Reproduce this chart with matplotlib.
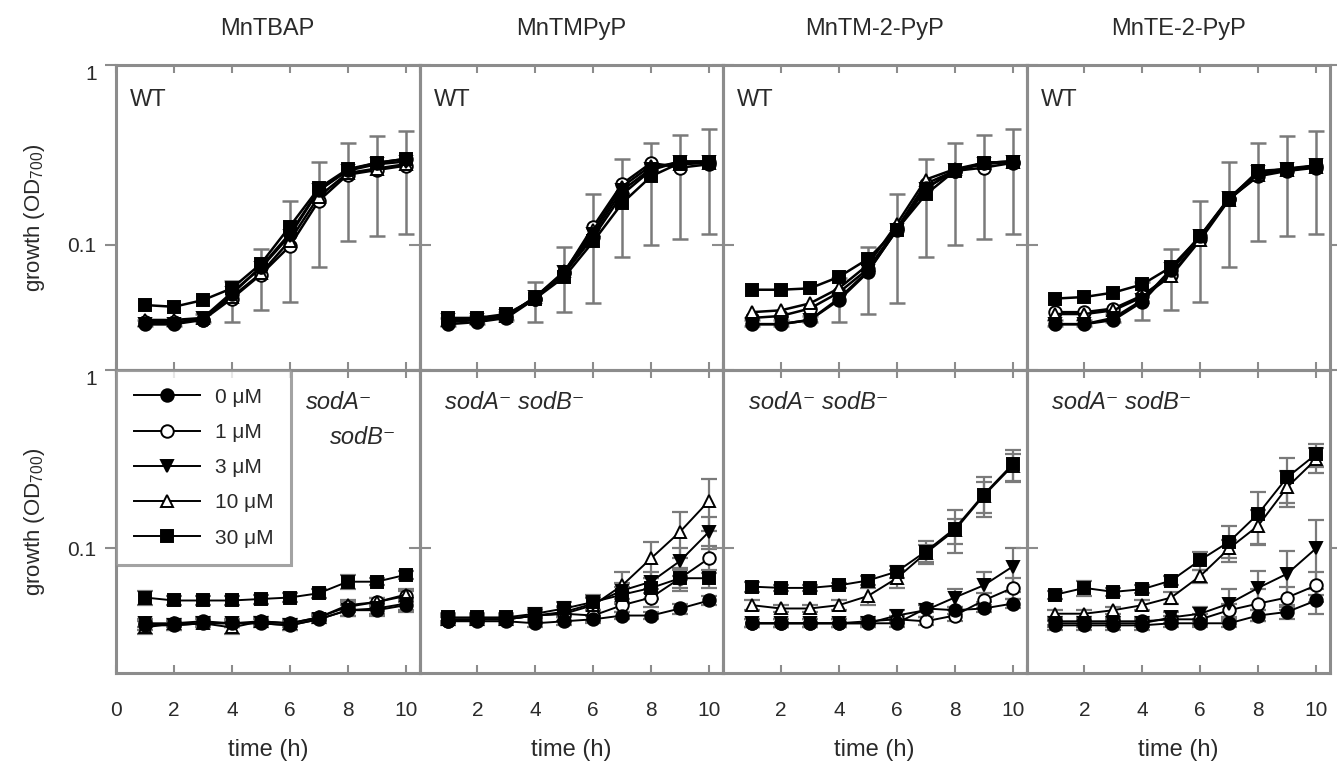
import numpy as np
import matplotlib
matplotlib.use("Agg")
import matplotlib.pyplot as plt
from matplotlib.ticker import FixedLocator, FixedFormatter, NullLocator

plt.rcParams['font.family'] = ['Liberation Sans', 'DejaVu Sans']
plt.rcParams['mathtext.fontset'] = 'custom'
plt.rcParams['mathtext.rm'] = 'Liberation Sans'
plt.rcParams['mathtext.it'] = 'Liberation Sans:italic'

# ---------------- data ----------------
hours = [1, 2, 3, 4, 5, 6, 7, 8, 9, 10]
compounds = ["MnTBAP", "MnTMPyP", "MnTM-2-PyP", "MnTE-2-PyP"]
doses = ["0 \u03bcM", "1 \u03bcM", "3 \u03bcM", "10 \u03bcM", "30 \u03bcM"]

# wild type (top row): 5 series each (0, 1, 3, 10, 30 uM)
wt_mntbap = [
    [0.036, 0.036, 0.038, 0.053, 0.075, 0.115, 0.200, 0.260, 0.285, 0.300],
    [0.037, 0.037, 0.038, 0.050, 0.068, 0.098, 0.175, 0.245, 0.260, 0.275],
    [0.036, 0.036, 0.039, 0.054, 0.074, 0.112, 0.200, 0.258, 0.280, 0.290],
    [0.038, 0.038, 0.039, 0.051, 0.069, 0.105, 0.185, 0.250, 0.265, 0.280],
    [0.046, 0.045, 0.049, 0.057, 0.078, 0.126, 0.206, 0.263, 0.285, 0.300],
]
wt_mntmpyp = [
    [0.036, 0.037, 0.039, 0.050, 0.069, 0.110, 0.190, 0.260, 0.290, 0.290],
    [0.037, 0.038, 0.040, 0.050, 0.070, 0.126, 0.218, 0.285, 0.268, 0.280],
    [0.038, 0.038, 0.040, 0.051, 0.070, 0.115, 0.200, 0.265, 0.290, 0.290],
    [0.038, 0.039, 0.040, 0.051, 0.071, 0.120, 0.210, 0.275, 0.280, 0.285],
    [0.039, 0.039, 0.041, 0.050, 0.066, 0.104, 0.170, 0.240, 0.285, 0.290],
]
wt_mntm2pyp = [
    [0.036, 0.036, 0.038, 0.049, 0.070, 0.121, 0.206, 0.257, 0.285, 0.290],
    [0.039, 0.040, 0.044, 0.054, 0.073, 0.123, 0.218, 0.257, 0.268, 0.285],
    [0.036, 0.036, 0.038, 0.050, 0.071, 0.120, 0.205, 0.260, 0.280, 0.290],
    [0.042, 0.043, 0.047, 0.057, 0.077, 0.130, 0.230, 0.263, 0.285, 0.290],
    [0.056, 0.056, 0.057, 0.066, 0.083, 0.121, 0.190, 0.257, 0.285, 0.290],
]
wt_mnte2pyp = [
    [0.036, 0.036, 0.038, 0.048, 0.072, 0.111, 0.180, 0.250, 0.263, 0.274],
    [0.042, 0.042, 0.044, 0.052, 0.068, 0.108, 0.180, 0.240, 0.257, 0.268],
    [0.036, 0.036, 0.039, 0.049, 0.073, 0.112, 0.182, 0.252, 0.265, 0.276],
    [0.041, 0.041, 0.043, 0.051, 0.067, 0.106, 0.178, 0.245, 0.260, 0.270],
    [0.050, 0.051, 0.054, 0.060, 0.075, 0.111, 0.180, 0.257, 0.263, 0.274],
]
# error bar ends (lower / upper) for the wild-type panels
wt_mntbap_lo = [0.035, 0.035, 0.037, 0.037, 0.043, 0.048, 0.075, 0.104, 0.111, 0.115]
wt_mntbap_hi = [0.038, 0.038, 0.041, 0.063, 0.094, 0.174, 0.290, 0.370, 0.400, 0.430]
wt_mntmpyp_lo = [0.035, 0.036, 0.038, 0.037, 0.042, 0.047, 0.085, 0.100, 0.108, 0.115]
wt_mntmpyp_hi = [0.039, 0.040, 0.042, 0.062, 0.097, 0.190, 0.300, 0.370, 0.410, 0.440]
wt_mntm2pyp_lo = [0.035, 0.035, 0.037, 0.037, 0.041, 0.047, 0.085, 0.100, 0.108, 0.115]
wt_mntm2pyp_hi = [0.038, 0.038, 0.040, 0.065, 0.097, 0.190, 0.300, 0.370, 0.410, 0.440]
wt_mnte2pyp_lo = [0.035, 0.035, 0.037, 0.038, 0.043, 0.048, 0.075, 0.104, 0.111, 0.115]
wt_mnte2pyp_hi = [0.038, 0.038, 0.041, 0.062, 0.094, 0.174, 0.290, 0.370, 0.400, 0.430]

# sodA- sodB- (bottom row)
sod_mntbap = [
    [0.037, 0.037, 0.038, 0.038, 0.038, 0.037, 0.040, 0.045, 0.045, 0.048],
    [0.038, 0.038, 0.039, 0.038, 0.039, 0.038, 0.041, 0.047, 0.050, 0.054],
    [0.038, 0.037, 0.038, 0.038, 0.038, 0.037, 0.040, 0.045, 0.046, 0.049],
    [0.036, 0.038, 0.038, 0.036, 0.039, 0.038, 0.041, 0.048, 0.050, 0.055],
    [0.053, 0.051, 0.051, 0.051, 0.052, 0.053, 0.056, 0.065, 0.065, 0.071],
]
sod_mntmpyp = [
    [0.039, 0.039, 0.039, 0.038, 0.039, 0.040, 0.042, 0.042, 0.046, 0.051],
    [0.039, 0.040, 0.040, 0.042, 0.043, 0.042, 0.048, 0.053, 0.068, 0.088],
    [0.040, 0.040, 0.040, 0.042, 0.044, 0.049, 0.058, 0.065, 0.085, 0.124],
    [0.040, 0.040, 0.040, 0.042, 0.043, 0.048, 0.062, 0.088, 0.124, 0.185],
    [0.041, 0.041, 0.041, 0.043, 0.046, 0.050, 0.055, 0.060, 0.068, 0.068],
]
sod_mntm2pyp = [
    [0.038, 0.038, 0.038, 0.038, 0.038, 0.038, 0.046, 0.045, 0.046, 0.049],
    [0.038, 0.038, 0.038, 0.038, 0.039, 0.040, 0.039, 0.042, 0.051, 0.060],
    [0.038, 0.038, 0.038, 0.038, 0.038, 0.042, 0.045, 0.053, 0.062, 0.079],
    [0.048, 0.046, 0.046, 0.048, 0.054, 0.068, 0.094, 0.126, 0.197, 0.290],
    [0.061, 0.060, 0.060, 0.062, 0.066, 0.074, 0.096, 0.129, 0.200, 0.296],
]
sod_mnte2pyp = [
    [0.037, 0.037, 0.037, 0.037, 0.038, 0.038, 0.038, 0.042, 0.044, 0.051],
    [0.039, 0.039, 0.039, 0.039, 0.040, 0.040, 0.045, 0.049, 0.053, 0.062],
    [0.038, 0.038, 0.038, 0.038, 0.041, 0.043, 0.049, 0.060, 0.072, 0.100],
    [0.043, 0.043, 0.045, 0.048, 0.053, 0.070, 0.100, 0.134, 0.220, 0.316],
    [0.055, 0.060, 0.057, 0.059, 0.066, 0.086, 0.109, 0.156, 0.250, 0.337],
]
# symmetric standard deviations for the sodA- sodB- series
sod_mntbap_sd = [
    [0.002, 0.002, 0.002, 0.002, 0.002, 0.002, 0.002, 0.003, 0.003, 0.004],
    [0.002, 0.002, 0.002, 0.002, 0.002, 0.002, 0.002, 0.003, 0.003, 0.004],
    [0.002, 0.002, 0.002, 0.002, 0.002, 0.002, 0.002, 0.003, 0.003, 0.004],
    [0.003, 0.002, 0.002, 0.003, 0.002, 0.002, 0.002, 0.003, 0.003, 0.004],
    [0.005, 0.003, 0.003, 0.003, 0.003, 0.003, 0.003, 0.006, 0.003, 0.004],
]
sod_mntmpyp_sd = [
    [0.002, 0.002, 0.002, 0.002, 0.002, 0.002, 0.002, 0.002, 0.003, 0.003],
    [0.002, 0.002, 0.002, 0.002, 0.002, 0.003, 0.004, 0.006, 0.010, 0.015],
    [0.002, 0.002, 0.002, 0.002, 0.003, 0.004, 0.006, 0.009, 0.015, 0.025],
    [0.002, 0.002, 0.002, 0.003, 0.004, 0.006, 0.012, 0.020, 0.036, 0.060],
    [0.002, 0.002, 0.002, 0.003, 0.004, 0.005, 0.006, 0.008, 0.008, 0.008],
]
sod_mntm2pyp_sd = [
    [0.002, 0.002, 0.002, 0.002, 0.002, 0.002, 0.002, 0.002, 0.002, 0.003],
    [0.002, 0.002, 0.002, 0.002, 0.002, 0.002, 0.002, 0.003, 0.005, 0.008],
    [0.002, 0.002, 0.002, 0.002, 0.002, 0.003, 0.004, 0.006, 0.012, 0.022],
    [0.003, 0.002, 0.002, 0.003, 0.006, 0.008, 0.010, 0.020, 0.040, 0.050],
    [0.004, 0.002, 0.002, 0.002, 0.004, 0.006, 0.014, 0.035, 0.050, 0.060],
]
sod_mnte2pyp_sd = [
    [0.002, 0.002, 0.002, 0.002, 0.002, 0.002, 0.002, 0.003, 0.004, 0.008],
    [0.002, 0.002, 0.002, 0.002, 0.002, 0.003, 0.004, 0.010, 0.008, 0.012],
    [0.002, 0.002, 0.002, 0.002, 0.003, 0.004, 0.010, 0.015, 0.025, 0.045],
    [0.002, 0.002, 0.002, 0.003, 0.004, 0.006, 0.012, 0.030, 0.050, 0.050],
    [0.003, 0.006, 0.003, 0.003, 0.004, 0.010, 0.025, 0.050, 0.070, 0.050],
]

# ---------------- styling ----------------
markers = ['o', 'o', 'v', '^', 's']
faces = ['black', 'white', 'black', 'white', 'black']
spine_col = '#8c8c8c'
err_col = '#7a7a7a'
text_col = '#2a2a2a'

W, H = 1337, 770
fig = plt.figure(figsize=(W / 100, H / 100), dpi=100)

col_left = [116, 419.5, 723, 1026.5]
col_w = 303.5
row_top = [65, 370]
row_h = [305, 303]

top_data = [wt_mntbap, wt_mntmpyp, wt_mntm2pyp, wt_mnte2pyp]
top_lo = [wt_mntbap_lo, wt_mntmpyp_lo, wt_mntm2pyp_lo, wt_mnte2pyp_lo]
top_hi = [wt_mntbap_hi, wt_mntmpyp_hi, wt_mntm2pyp_hi, wt_mnte2pyp_hi]
bot_data = [sod_mntbap, sod_mntmpyp, sod_mntm2pyp, sod_mnte2pyp]
bot_sd = [sod_mntbap_sd, sod_mntmpyp_sd, sod_mntm2pyp_sd, sod_mnte2pyp_sd]

x = np.array(hours, dtype=float)


def style_axis(ax, col, row):
    ax.set_yscale('log')
    ax.set_ylim(0.02, 1.0)
    ax.set_xlim(0, 10.48)
    for sp in ax.spines.values():
        sp.set_color(spine_col)
        sp.set_linewidth(2.2)
    ax.xaxis.set_major_locator(FixedLocator([0, 2, 4, 6, 8, 10]))
    ax.xaxis.set_minor_locator(NullLocator())
    ax.yaxis.set_major_locator(FixedLocator([0.1, 1.0]))
    ax.yaxis.set_minor_locator(NullLocator())
    ax.tick_params(axis='x', which='major', direction='in', top=True, bottom=True,
                   length=6, width=1.5, color=spine_col, labelsize=15, labelcolor=text_col, pad=20)
    ax.tick_params(axis='y', which='major', direction='out', left=True, right=True,
                   length=8, width=1.5, color=spine_col, labelsize=15, labelcolor=text_col, pad=6)
    if row == 0:
        ax.tick_params(axis='x', labelbottom=False)
    else:
        if col == 0:
            ax.xaxis.set_major_formatter(FixedFormatter(['0', '2', '4', '6', '8', '10']))
        else:
            ax.xaxis.set_major_formatter(FixedFormatter(['', '2', '4', '6', '8', '10']))
    if col == 0:
        ax.yaxis.set_major_formatter(FixedFormatter(['0.1', '1']))
    else:
        ax.tick_params(axis='y', labelleft=False)


axes = {}
for row in range(2):
    for col in range(4):
        l = col_left[col] / W
        b = (H - row_top[row] - row_h[row]) / H
        ax = fig.add_axes([l, b, col_w / W, row_h[row] / H])
        ax.set_facecolor('none')
        style_axis(ax, col, row)
        axes[(row, col)] = ax

handles = []
for col in range(4):
    # top row
    ax = axes[(0, col)]
    d = top_data[col]
    y0 = np.array(d[0])
    lo = np.array(top_lo[col])
    hi = np.array(top_hi[col])
    ax.errorbar(x, y0, yerr=[y0 - lo, hi - y0], fmt='none', ecolor=err_col,
                elinewidth=1.8, capsize=6, capthick=1.8, zorder=1)
    for i in range(5):
        ax.plot(x, d[i], color='black', lw=1.8, marker=markers[i], ms=9,
                mfc=faces[i], mec='black', mew=1.4, zorder=3 + (i in (0, 2, 4)))
    ax.text(0.047, 0.885, 'WT', transform=ax.transAxes, fontsize=17,
            color=text_col, ha='left', va='center')

    # bottom row
    ax = axes[(1, col)]
    d = bot_data[col]
    sd = bot_sd[col]
    for i in range(5):
        ax.errorbar(x, d[i], yerr=sd[i], fmt='none', ecolor=err_col,
                    elinewidth=1.6, capsize=6, capthick=1.6, zorder=1)
    for i in range(5):
        h, = ax.plot(x, d[i], color='black', lw=1.4, marker=markers[i], ms=9,
                     mfc=faces[i], mec='black', mew=1.4, zorder=3 + (i in (0, 2, 4)),
                     label=doses[i])
        if col == 0:
            handles.append(h)
    if col == 0:
        ax.text(0.625, 0.894, 'sodA\u207b', transform=ax.transAxes, fontsize=17,
                style='italic', color=text_col, ha='left', va='center')
        ax.text(0.705, 0.778, 'sodB\u207b', transform=ax.transAxes, fontsize=17,
                style='italic', color=text_col, ha='left', va='center')
        leg = ax.legend(handles=handles, loc='upper left', bbox_to_anchor=(0, 1),
                        borderaxespad=0, fontsize=15, frameon=True, fancybox=False,
                        handlelength=3.2, handletextpad=0.7, labelspacing=0.78,
                        borderpad=0.85, labelcolor=text_col)
        leg.get_frame().set_edgecolor(spine_col)
        leg.get_frame().set_linewidth(2.2)
        leg.set_zorder(10)
    else:
        ax.text(0.085, 0.894, 'sodA\u207b sodB\u207b', transform=ax.transAxes,
                fontsize=17, style='italic', color=text_col, ha='left', va='center')

    # compound title and x label
    cx = (col_left[col] + col_w / 2) / W
    fig.text(cx, 1 - 29 / H, compounds[col], ha='center', va='center',
             fontsize=17, color=text_col)
    fig.text(cx, 1 - 750 / H, 'time (h)', ha='center', va='center',
             fontsize=17, color=text_col)

# shift the "1" tick labels down a little (as in the reference)
for row in range(2):
    for lab in axes[(row, 0)].get_yticklabels():
        if lab.get_text() == '1':
            lab.set_va('top')

for row in range(2):
    cy = 1 - (row_top[row] + row_h[row] / 2) / H
    fig.text(35 / W, cy, 'growth (OD$_{700}$)', rotation=90, ha='center',
             va='center', fontsize=16, color=text_col)

fig.savefig('out.png', dpi=100, facecolor='white')
